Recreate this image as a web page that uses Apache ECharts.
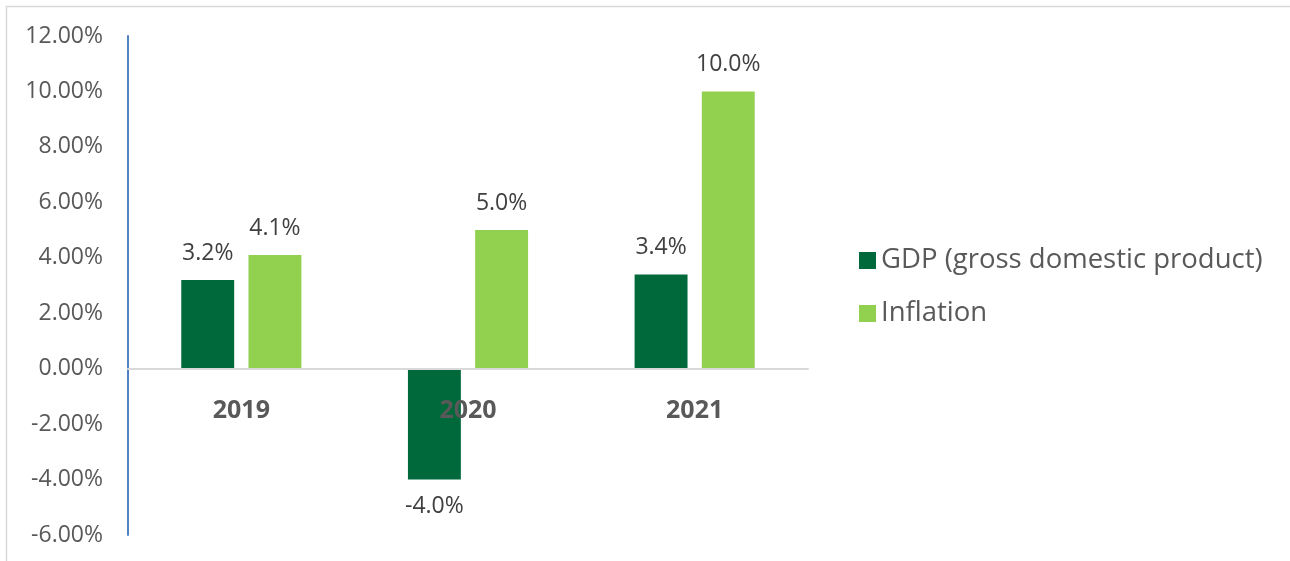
<!DOCTYPE html>
<html>
<head>
<meta charset="utf-8">
<script src="https://cdn.jsdelivr.net/npm/echarts@6/dist/echarts.min.js"></script>
<style>
  html, body { margin: 0; padding: 0; background: #fff; }
  #chart { width: 1290px; height: 561px; }
</style>
</head>
<body>
<div id="chart"></div>
<script>
// 年份与数据
const years = ['2019', '2020', '2021'];
const gdp = [3.2, -4.0, 3.4];
const inflation = [4.1, 5.0, 10.0];
const seriesNames = ['GDP (gross domestic product)', 'Inflation'];

const chart = echarts.init(document.getElementById('chart'));

const labelStyle = {
  show: true,
  position: 'top',
  distance: 15,
  color: '#404040',
  fontSize: 23,
  fontFamily: 'Open Sans',
  formatter: (p) => p.value.toFixed(1) + '%',
};

// 负值标签放在柱子下方
const toData = (arr) =>
  arr.map((v) => ({
    value: v,
    label: { position: v < 0 ? 'bottom' : 'top' },
  }));

chart.setOption({
  animation: false,
  textStyle: { fontFamily: 'Open Sans' },
  graphic: [
    {
      type: 'rect',
      shape: { x: 6.5, y: 6.5, width: 1400, height: 700 },
      style: { fill: 'none', stroke: '#d9d9d9', lineWidth: 1.5 },
      silent: true,
    },
  ],
  grid: {
    left: 128,
    right: 482,
    top: 36,
    bottom: 26,
    containLabel: false,
    outerBoundsMode: 'none',
  },
  legend: {
    orient: 'vertical',
    left: 854,
    top: 240,
    itemWidth: 17,
    itemHeight: 17,
    itemGap: 22,
    itemTextGap: 9,
    icon: 'rect',
    textStyle: { color: '#595959', fontSize: 27.5, lineHeight: 31, fontFamily: 'Open Sans' },
    data: seriesNames,
  },
  xAxis: {
    type: 'category',
    data: years,
    axisTick: { show: false },
    axisLine: { onZero: true, lineStyle: { color: '#d9d9d9', width: 2 } },
    axisLabel: {
      color: '#595959',
      fontSize: 25,
      fontWeight: 'bold',
      // 标签贴近零线
      margin: -137,
      fontFamily: 'Open Sans',
    },
    z: 5,
  },
  yAxis: {
    type: 'value',
    min: -6,
    max: 12,
    interval: 2,
    splitLine: { show: false },
    axisLine: { show: true, onZero: false, lineStyle: { color: '#4f81c5', width: 2 } },
    axisTick: { show: false },
    axisLabel: {
      color: '#595959',
      fontSize: 23,
      margin: 25,
      fontFamily: 'Open Sans',
      formatter: (v) => v.toFixed(2) + '%',
    },
  },
  series: [
    {
      name: seriesNames[0],
      type: 'bar',
      data: toData(gdp),
      barGap: '27%',
      barCategoryGap: '47%',
      itemStyle: { color: '#00693c' },
      label: labelStyle,
      z: 3,
    },
    {
      name: seriesNames[1],
      type: 'bar',
      data: toData(inflation),
      itemStyle: { color: '#92d050' },
      label: labelStyle,
      z: 3,
    },
  ],
});
</script>
</body>
</html>
